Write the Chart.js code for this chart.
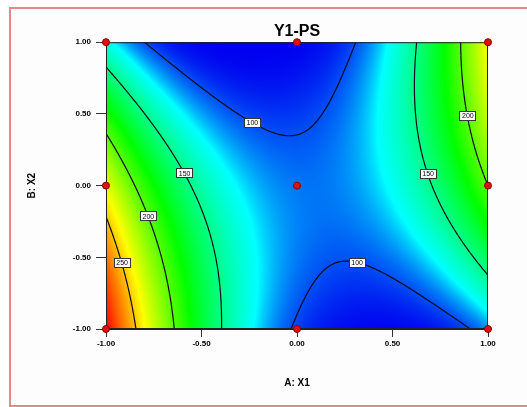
<!DOCTYPE html>
<html>
<head>
<meta charset="utf-8">
<title>Y1-PS</title>
<script src="https://cdn.jsdelivr.net/npm/chart.js@4.4.1/dist/chart.umd.min.js"></script>
<style>
  html, body { margin: 0; padding: 0; background: #fff; }
  #wrap { position: relative; width: 527px; height: 407px; overflow: hidden; }
  #frame {
    position: absolute; left: 9px; top: 7px; width: 540px; height: 400px;
    border: 2px solid #e48a8c; background: #fdfdfd; box-sizing: border-box;
  }
  canvas { position: absolute; left: 0; top: 0; }
</style>
</head>
<body>
<div id="wrap">
  <div id="frame"></div>
  <canvas id="chart" width="527" height="407"></canvas>
</div>

<script>
// ===============================
// DATA
// ===============================

const x1Levels = [-1, 0, 1];
const x2Levels = [-1, 0, 1];

// Y1-PS read at the design points, one list per X2 level (X1 = -1, 0, 1)
const psAtX2Low  = [295, 97, 110];
const psAtX2Mid  = [233, 107, 200];
const psAtX2High = [129, 73, 237];

const contourLevels = [100, 150, 200, 250];

const xTickLabels = ["-1.00", "-0.50", "0.00", "0.50", "1.00"];
const yTickLabels = ["-1.00", "-0.50", "0.00", "0.50", "1.00"];


// ===============================
// PLOT SETTINGS
// ===============================

const FONT = "'Liberation Sans', Arial, sans-serif";
Chart.defaults.font.family = FONT;

// where the level boxes sit (approximate, snapped onto the line along X1)
const labelSpots = [
  { level: 100, x1: -0.19, x2: 0.44 },
  { level: 100, x1: 0.37, x2: -0.535 },
  { level: 150, x1: -0.575, x2: 0.09 },
  { level: 150, x1: 0.69, x2: 0.085 },
  { level: 200, x1: -0.765, x2: -0.21 },
  { level: 200, x1: 0.90, x2: 0.49 },
  { level: 250, x1: -0.91, x2: -0.535 }
];

const colorStops = [
  [0, 0, 240],
  [0, 255, 255],
  [0, 255, 0],
  [255, 255, 0],
  [255, 0, 0]
];


// ===============================
// RESPONSE SURFACE
// ===============================

const responseRows = [psAtX2Low, psAtX2Mid, psAtX2High];

// quadratic through the three coded levels -1, 0, 1
function basis(t) {
  return [t * (t - 1) / 2, 1 - t * t, t * (t + 1) / 2];
}

function surface(x1, x2) {
  const bx = basis(x1);
  const by = basis(x2);
  let v = 0;
  for (let j = 0; j < 3; j++) {
    for (let i = 0; i < 3; i++) {
      v += responseRows[j][i] * bx[i] * by[j];
    }
  }
  return v;
}

function colorFor(v, lo, hi) {
  let t = (v - lo) / (hi - lo);
  t = Math.max(0, Math.min(1, t));
  const s = t * (colorStops.length - 1);
  const k = Math.min(colorStops.length - 2, Math.floor(s));
  let f = s - k;
  // the blue end stays deep for longer before it turns cyan
  if (k === 0) f = Math.pow(f, 2.2);
  const a = colorStops[k];
  const b = colorStops[k + 1];
  return [
    a[0] + (b[0] - a[0]) * f,
    a[1] + (b[1] - a[1]) * f,
    a[2] + (b[2] - a[2]) * f
  ];
}


// ===============================
// SURFACE PLUGIN (fill, contours, labels)
// ===============================

const surfacePlugin = {
  id: "surface",
  beforeDatasetsDraw(chart) {
    const { ctx, chartArea: a, scales: { x, y } } = chart;
    const w = Math.round(a.right - a.left);
    const h = Math.round(a.bottom - a.top);

    // colour fill
    const vals = new Float32Array(w * h);
    let lo = Infinity, hi = -Infinity;
    for (let py = 0; py < h; py++) {
      const v2 = y.getValueForPixel(a.top + py + 0.5);
      for (let px = 0; px < w; px++) {
        const v = surface(x.getValueForPixel(a.left + px + 0.5), v2);
        vals[py * w + px] = v;
        if (v < lo) lo = v;
        if (v > hi) hi = v;
      }
    }
    const off = document.createElement("canvas");
    off.width = w;
    off.height = h;
    const octx = off.getContext("2d");
    const img = octx.createImageData(w, h);
    for (let k = 0; k < vals.length; k++) {
      const c = colorFor(vals[k], lo, hi);
      img.data[k * 4] = c[0];
      img.data[k * 4 + 1] = c[1];
      img.data[k * 4 + 2] = c[2];
      img.data[k * 4 + 3] = 255;
    }
    octx.putImageData(img, 0, 0);
    ctx.drawImage(off, a.left, a.top, a.right - a.left, a.bottom - a.top);

    // contour lines (marching squares on a fine grid)
    const N = 200;
    const node = i => -1 + 2 * i / N;
    const g = [];
    for (let j = 0; j <= N; j++) {
      const row = [];
      for (let i = 0; i <= N; i++) row.push(surface(node(i), node(j)));
      g.push(row);
    }
    ctx.save();
    ctx.beginPath();
    ctx.rect(a.left, a.top, a.right - a.left, a.bottom - a.top);
    ctx.clip();
    ctx.strokeStyle = "#0a0a1a";
    ctx.lineWidth = 1.2;
    ctx.beginPath();
    contourLevels.forEach(level => {
      for (let j = 0; j < N; j++) {
        for (let i = 0; i < N; i++) {
          const c = [
            [node(i), node(j), g[j][i]],
            [node(i + 1), node(j), g[j][i + 1]],
            [node(i + 1), node(j + 1), g[j + 1][i + 1]],
            [node(i), node(j + 1), g[j + 1][i]]
          ];
          const pts = [];
          for (let e = 0; e < 4; e++) {
            const p = c[e], q = c[(e + 1) % 4];
            if ((p[2] - level) * (q[2] - level) < 0) {
              const f = (level - p[2]) / (q[2] - p[2]);
              pts.push([p[0] + (q[0] - p[0]) * f, p[1] + (q[1] - p[1]) * f]);
            }
          }
          for (let s = 0; s + 1 < pts.length; s += 2) {
            ctx.moveTo(x.getPixelForValue(pts[s][0]), y.getPixelForValue(pts[s][1]));
            ctx.lineTo(x.getPixelForValue(pts[s + 1][0]), y.getPixelForValue(pts[s + 1][1]));
          }
        }
      }
    });
    ctx.stroke();
    ctx.restore();

    // level boxes
    ctx.save();
    ctx.font = "7px " + FONT;
    ctx.textAlign = "center";
    ctx.textBaseline = "middle";
    labelSpots.forEach(spot => {
      let best = spot.x1, err = Infinity;
      for (let d = -0.15; d <= 0.15; d += 0.002) {
        const e = Math.abs(surface(spot.x1 + d, spot.x2) - spot.level);
        if (e < err) { err = e; best = spot.x1 + d; }
      }
      const px = x.getPixelForValue(best);
      const py = y.getPixelForValue(spot.x2);
      ctx.fillStyle = "#fff";
      ctx.fillRect(Math.round(px - 8) + 0.5, Math.round(py - 4.5) + 0.5, 16, 9);
      ctx.strokeStyle = "#333";
      ctx.lineWidth = 1;
      ctx.strokeRect(Math.round(px - 8) + 0.5, Math.round(py - 4.5) + 0.5, 16, 9);
      ctx.fillStyle = "#000";
      ctx.fillText(String(spot.level), px + 0.5, py + 1);
    });
    ctx.restore();

    // frame round the plot area
    ctx.save();
    ctx.strokeStyle = "#222";
    ctx.lineWidth = 1;
    ctx.strokeRect(a.left + 0.5, a.top + 0.5, a.right - a.left - 1, a.bottom - a.top - 1);
    ctx.restore();
  }
};


// ===============================
// CHART
// ===============================

const designPoints = [];
x2Levels.forEach(b => {
  x1Levels.forEach(av => designPoints.push({ x: av, y: b }));
});

const tickFont = { family: FONT, size: 8, weight: "bold" };

new Chart(document.getElementById("chart"), {
  type: "scatter",
  data: {
    datasets: [{
      label: "Design points",
      data: designPoints,
      pointRadius: 3.5,
      pointBackgroundColor: "#e01010",
      pointBorderColor: "#8a0000",
      pointBorderWidth: 1,
      clip: false
    }]
  },
  options: {
    responsive: false,
    animation: false,
    layout: { padding: { left: 0, right: 39, top: 0, bottom: 0 } },
    plugins: {
      legend: { display: false },
      tooltip: { enabled: false },
      title: {
        display: true,
        fullSize: false,
        text: "Y1-PS",
        color: "#000",
        font: { family: FONT, size: 16, weight: "bold" },
        padding: { top: 22, bottom: 1 }
      }
    },
    scales: {
      x: {
        type: "linear",
        min: -1,
        max: 1,
        afterFit: s => { s.height = 78; },
        ticks: {
          stepSize: 0.5,
          autoSkip: false,
          maxRotation: 0,
          padding: 2,
          color: "#000",
          font: tickFont,
          callback: (v, i) => xTickLabels[i]
        },
        grid: { drawOnChartArea: false, tickLength: 8, color: "#333" },
        border: { color: "#222", width: 1 },
        title: {
          display: true,
          text: "A: X1",
          color: "#000",
          font: { family: FONT, size: 10, weight: "bold" },
          padding: { top: 0, bottom: 18 }
        }
      },
      y: {
        type: "linear",
        min: -1,
        max: 1,
        afterFit: s => { s.width = 106; },
        ticks: {
          stepSize: 0.5,
          autoSkip: false,
          padding: 5,
          color: "#000",
          font: tickFont,
          callback: (v, i) => yTickLabels[i]
        },
        grid: { drawOnChartArea: false, tickLength: 10, color: "#333" },
        border: { color: "#222", width: 1 },
        title: {
          display: true,
          text: "B: X2",
          color: "#000",
          font: { family: FONT, size: 10, weight: "bold" },
          padding: { top: 26, bottom: 0 }
        }
      }
    }
  },
  plugins: [surfacePlugin]
});
</script>
</body>
</html>
